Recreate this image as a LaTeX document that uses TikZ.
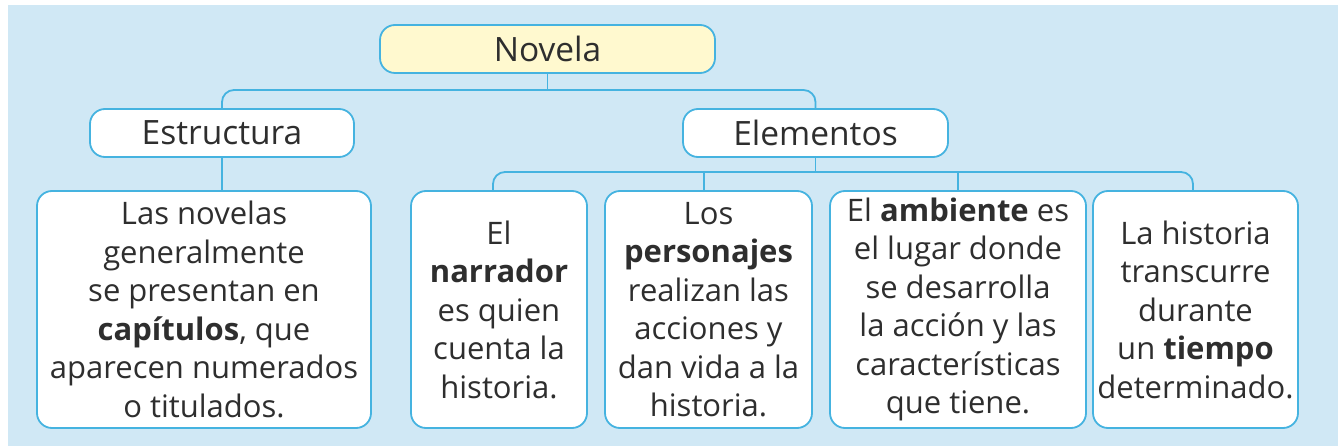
\documentclass[tikz,border=0pt]{standalone}
\usepackage{fontspec}
\setmainfont{Open Sans}
\usetikzlibrary{calc}
\definecolor{bgblue}{HTML}{D0E8F5}
\definecolor{lineblue}{HTML}{45B3E0}
\definecolor{hdryellow}{HTML}{FFF9CF}
\definecolor{txtgray}{HTML}{2E2E2E}
\begin{document}
\begin{tikzpicture}[x=1pt,y=-1pt,
  box/.style={draw=lineblue,line width=1.8pt,rounded corners=15pt,fill=white,
    inner sep=0pt,align=center,text=txtgray,font=\fontsize{31}{38.5}\selectfont},
  hdr/.style={box,font=\fontsize{33.5}{40}\selectfont},
  conn/.style={draw=lineblue,line width=1.8pt}]
\useasboundingbox (0,0) rectangle (1338,446);
\fill[white] (0,0) rectangle (1338,446);
\fill[bgblue] (8,5) rectangle (1338,446);
% headers
\node[hdr,fill=hdryellow,minimum width=335pt,minimum height=48pt] (nov) at (547.5,49) {Novela};
\node[hdr,minimum width=264pt,minimum height=48pt] (est) at (222,133) {Estructura};
\node[hdr,minimum width=265pt,minimum height=48pt] (ele) at (815.5,133) {Elementos};
% content boxes
\node[box,minimum width=334pt,minimum height=237pt] (b1) at (204,309.5)
  {Las novelas\\generalmente\\se presentan en\\\textbf{capítulos}, que\\aparecen numerados\\o titulados.};
\node[box,minimum width=176pt,minimum height=237pt] (b2) at (499,309.5)
  {El\\\textbf{narrador}\\es quien\\cuenta la\\historia.};
\node[box,minimum width=207pt,minimum height=237pt] (b3) at (708.5,309.5)
  {Los\\\textbf{personajes}\\realizan las\\acciones y\\dan vida a la\\historia.};
\node[box,minimum width=256pt,minimum height=237pt] (b4) at (958,309.5)
  {El \textbf{ambiente} es\\el lugar donde\\se desarrolla\\la acción y las\\características\\que tiene.};
\node[box,minimum width=205pt,minimum height=237pt] (b5) at (1195.5,309.5)
  {La historia\\transcurre\\durante\\un \textbf{tiempo}\\determinado.};
% connectors
\coordinate (bar1) at (0,90);
\coordinate (bar2) at (0,172);
\coordinate (c2) at ([xshift=-6pt]b2.north);
\coordinate (c3) at ([xshift=-4.5pt]b3.north);
\coordinate (c5) at ([xshift=-2.5pt]b5.north);
\draw[conn] (nov.south) -- (nov.south |- bar1);
\draw[conn,rounded corners=12pt] (est.north) -- (est.north |- bar1) -- (ele.north |- bar1) -- (ele.north);
\draw[conn] (est.south) -- (b1.north -| est.south);
\draw[conn] (ele.south) -- (ele.south |- bar2);
\draw[conn,rounded corners=12pt] (c2) -- (c2 |- bar2) -- (c5 |- bar2) -- (c5);
\draw[conn] (c3 |- bar2) -- (c3);
\draw[conn] (b4.north |- bar2) -- (b4.north);
\end{tikzpicture}
\end{document}
